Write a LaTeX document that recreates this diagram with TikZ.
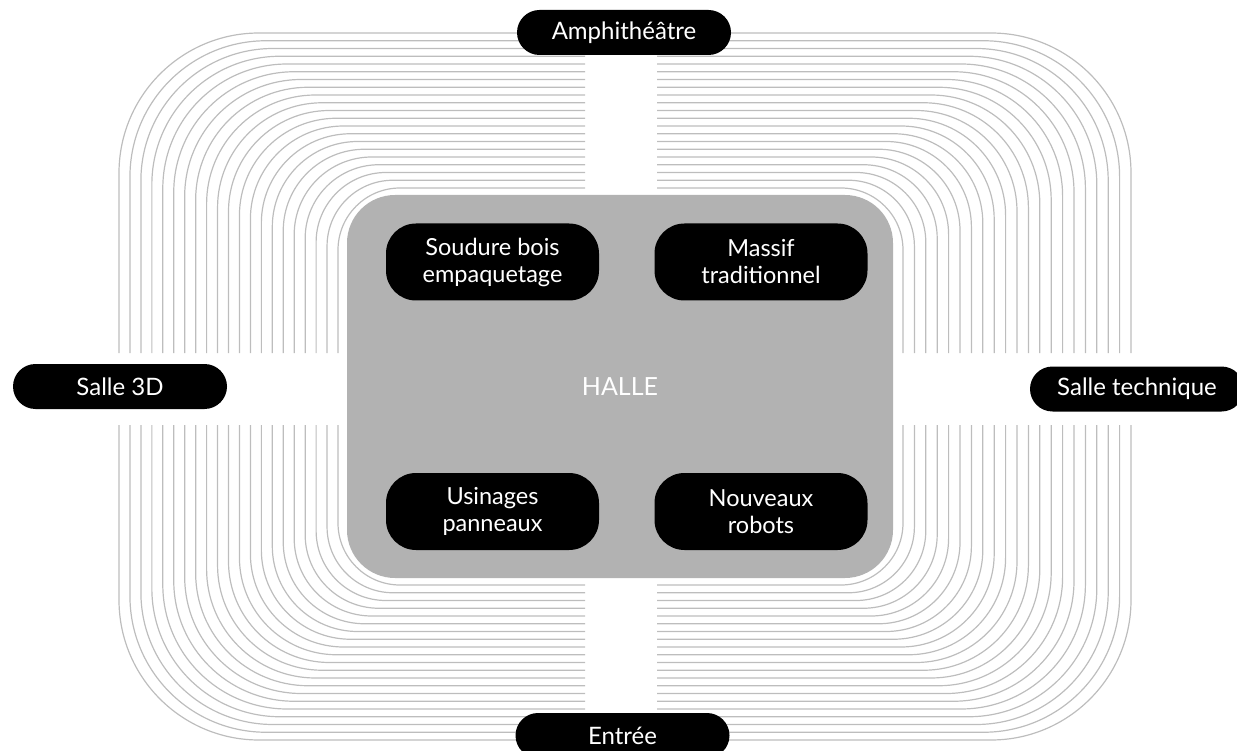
\documentclass[tikz,border=0pt]{standalone}
\usepackage{fontspec}
\setmainfont{Lato}
\definecolor{linegray}{HTML}{BDBDBD}
\definecolor{hallgray}{HTML}{B2B2B2}
\tikzset{
  ring/.style={draw=linegray, line width=1.2pt},
  pill/.style={fill=black, text=white, rounded corners=22.5pt, minimum width=214pt, minimum height=45pt, inner sep=0pt, font=\fontsize{24}{27}\selectfont},
  zone/.style={fill=black, text=white, rounded corners=30pt, minimum width=213pt, minimum height=77pt, inner sep=0pt, align=center, font=\fontsize{23.5}{27}\selectfont},
  hall/.style={fill=hallgray, text=white, rounded corners=48pt, minimum width=546pt, minimum height=383pt, inner sep=0pt, font=\fontsize{25}{27}\selectfont}
}
\begin{document}
\begin{tikzpicture}[x=1pt,y=-1pt]
\useasboundingbox (0,0) rectangle (1237,751);
\foreach \i in {0,...,20}{
  \pgfmathsetmacro\xl{338-10.95*\i}
  \pgfmathsetmacro\xr{903+11.4*\i}
  \pgfmathsetmacro\yt{188-7.75*\i}
  \pgfmathsetmacro\yb{585+7.75*\i}
  \pgfmathsetmacro\rad{62+3.9*\i}
  \draw[ring, rounded corners=\rad pt] (585,\yt) -- (\xl,\yt) -- (\xl,353);
  \draw[ring, rounded corners=\rad pt] (657,\yt) -- (\xr,\yt) -- (\xr,353);
  \draw[ring, rounded corners=\rad pt] (585,\yb) -- (\xl,\yb) -- (\xl,425);
  \draw[ring, rounded corners=\rad pt] (657,\yb) -- (\xr,\yb) -- (\xr,425);
}
\node[hall] (halle) at (620,386.5) {HALLE};
\node[zone] (soudure) at (492.5,262) {Soudure bois\\empaquetage};
\node[zone] (massif) at (761,262) {Massif\\traditionnel};
\node[zone] (usinages) at (492.5,511.5) {Usinages\\panneaux};
\node[zone] (robots) at (761,511.5) {Nouveaux\\robots};
\node[pill] (amphi) at (624,32.5) {Amphithéâtre};
\node[pill] (salle3d) at (120,386.5) {Salle 3D};
\node[pill] (technique) at (1137,389) {Salle technique};
\node[pill] (entree) at (622.5,735.5) {Entrée};
\end{tikzpicture}
\end{document}
